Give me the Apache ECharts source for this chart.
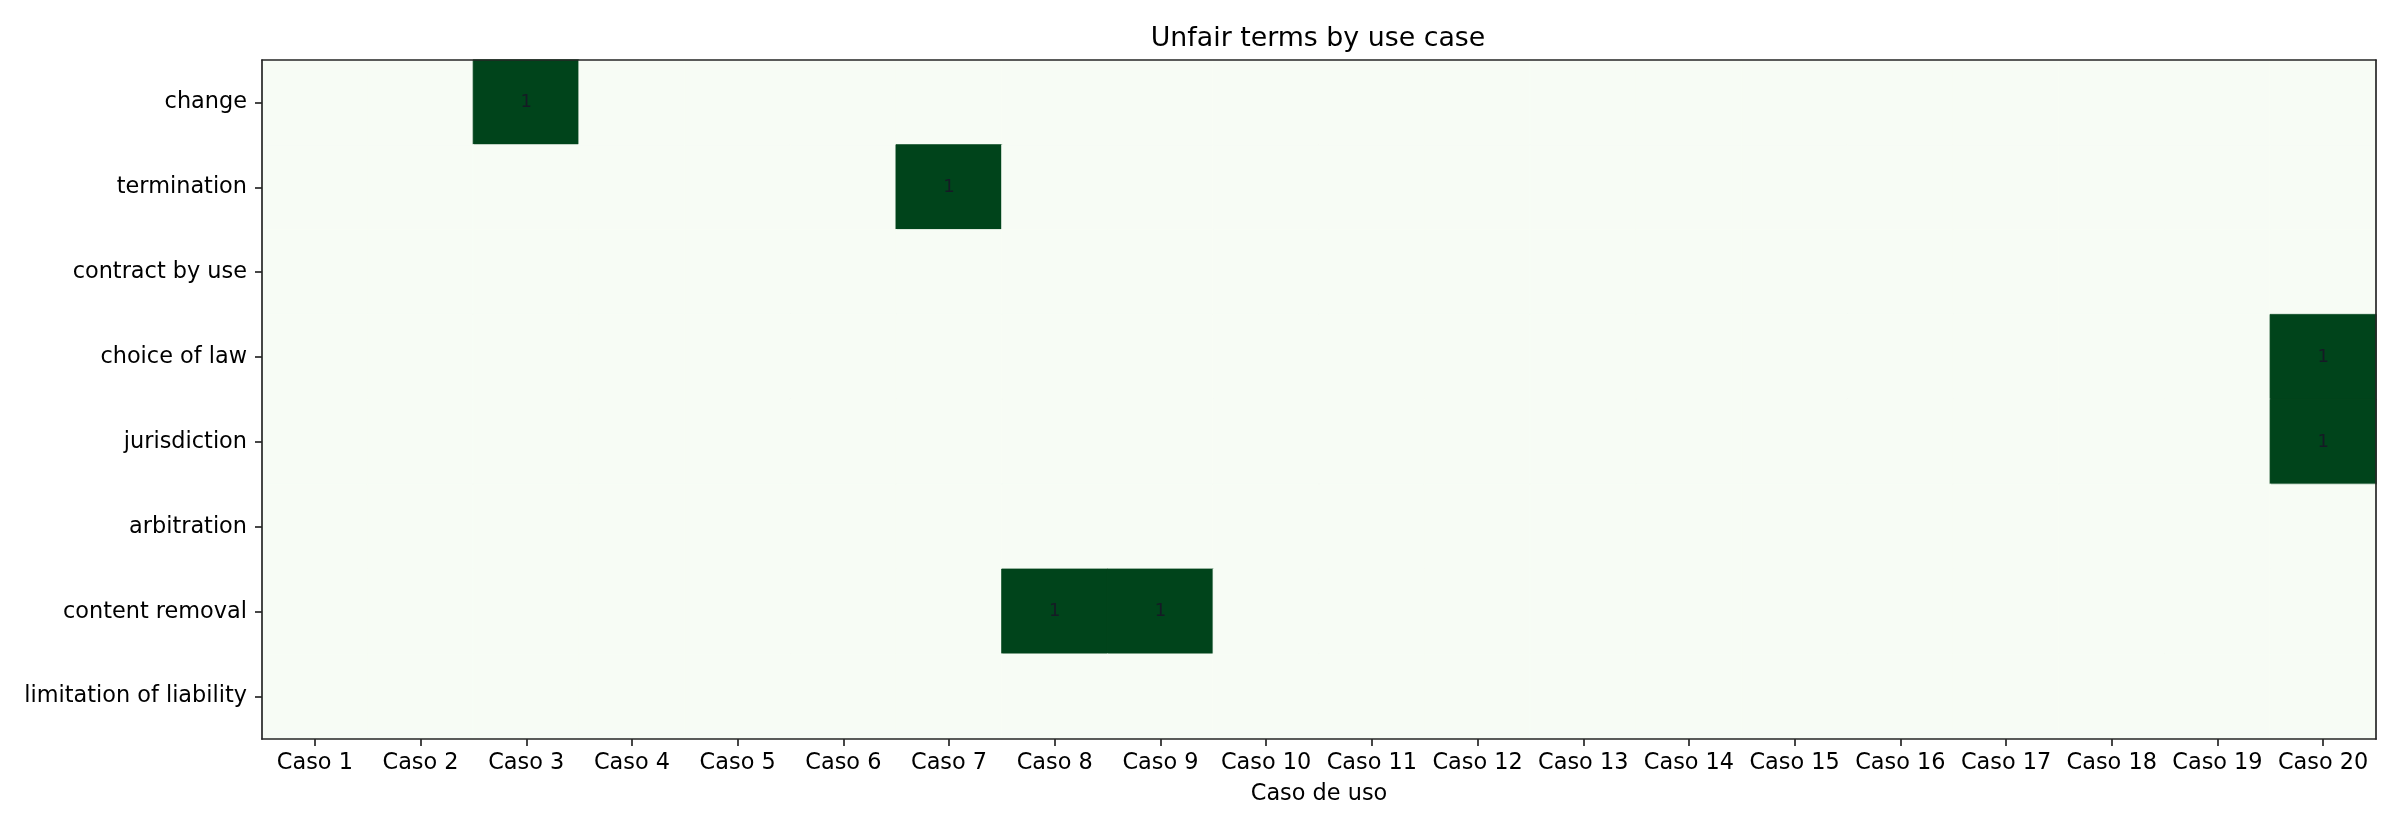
<!DOCTYPE html>
<html>
<head>
<meta charset="utf-8">
<script src="https://cdn.jsdelivr.net/npm/echarts@6/dist/echarts.min.js"></script>
<style>
html,body{margin:0;padding:0;background:#fff;}
#chart{width:2400px;height:832px;}
</style>
</head>
<body>
<div id="chart"></div>
<script>
const useCases = ['Caso 1','Caso 2','Caso 3','Caso 4','Caso 5','Caso 6','Caso 7','Caso 8','Caso 9','Caso 10',
  'Caso 11','Caso 12','Caso 13','Caso 14','Caso 15','Caso 16','Caso 17','Caso 18','Caso 19','Caso 20'];
const terms = ['change','termination','contract by use','choice of law','jurisdiction','arbitration','content removal','limitation of liability'];
// one row per term, one value per use case
const changeRow        = [0,0,1,0,0,0,0,0,0,0,0,0,0,0,0,0,0,0,0,0];
const terminationRow   = [0,0,0,0,0,0,1,0,0,0,0,0,0,0,0,0,0,0,0,0];
const contractByUseRow = [0,0,0,0,0,0,0,0,0,0,0,0,0,0,0,0,0,0,0,0];
const choiceOfLawRow   = [0,0,0,0,0,0,0,0,0,0,0,0,0,0,0,0,0,0,0,1];
const jurisdictionRow  = [0,0,0,0,0,0,0,0,0,0,0,0,0,0,0,0,0,0,0,1];
const arbitrationRow   = [0,0,0,0,0,0,0,0,0,0,0,0,0,0,0,0,0,0,0,0];
const contentRemovalRow= [0,0,0,0,0,0,0,1,1,0,0,0,0,0,0,0,0,0,0,0];
const limitationRow    = [0,0,0,0,0,0,0,0,0,0,0,0,0,0,0,0,0,0,0,0];
const rows = [changeRow, terminationRow, contractByUseRow, choiceOfLawRow, jurisdictionRow, arbitrationRow, contentRemovalRow, limitationRow];

const LOW = '#f7fcf5', HIGH = '#00441b';
const data = [];
rows.forEach((row, yi) => row.forEach((v, xi) => {
  const c = v ? HIGH : LOW;
  data.push({value: [xi, yi, v], itemStyle: {color: c, borderColor: c, borderWidth: 0.8}});
}));

const FONT = 'DejaVu Sans';
const AX = '#262626';
const FS = 22.4;
const chart = echarts.init(document.getElementById('chart'), null, {renderer: 'canvas'});
chart.setOption({
  animation: false,
  backgroundColor: '#ffffff',
  title: {
    text: 'Unfair terms by use case',
    left: 1313, top: 18, textAlign: 'center',
    textStyle: {fontFamily: FONT, fontSize: 26.8, fontWeight: 'normal', color: '#000', lineHeight: 32}
  },
  grid: {left: 262, right: 24, top: 60, bottom: 93},
  xAxis: [{
    type: 'category', data: useCases, position: 'bottom', z: 10,
    name: 'Caso de uso', nameLocation: 'middle', nameGap: 40,
    nameTextStyle: {fontFamily: FONT, fontSize: FS, color: '#000', lineHeight: 26},
    axisLine: {show: true, lineStyle: {color: AX, width: 1.7}},
    axisTick: {show: true, alignWithLabel: true, length: 7, lineStyle: {color: AX, width: 1.7}},
    axisLabel: {fontFamily: FONT, fontSize: FS, color: '#000', margin: 11, lineHeight: 26, interval: 0},
    splitLine: {show: false}
  }, {
    type: 'category', data: useCases, position: 'top', z: 10,
    axisLine: {show: true, lineStyle: {color: AX, width: 1.7}},
    axisTick: {show: false}, axisLabel: {show: false}, splitLine: {show: false}
  }],
  yAxis: [{
    type: 'category', data: terms, inverse: true, position: 'left', z: 10,
    axisLine: {show: true, lineStyle: {color: AX, width: 1.7}},
    axisTick: {show: true, alignWithLabel: true, length: 7, lineStyle: {color: AX, width: 1.7}},
    axisLabel: {fontFamily: FONT, fontSize: FS, color: '#000', margin: 15, interval: 0},
    splitLine: {show: false}
  }, {
    type: 'category', data: terms, inverse: true, position: 'right', z: 10,
    axisLine: {show: true, lineStyle: {color: AX, width: 1.7}},
    axisTick: {show: false}, axisLabel: {show: false}, splitLine: {show: false}
  }],
  series: [{
    type: 'heatmap', xAxisIndex: 0, yAxisIndex: 0, data: data,
    label: {
      show: true, fontFamily: FONT, fontSize: 18, color: '#161a26',
      formatter: p => (p.value[2] ? String(p.value[2]) : '')
    },
    emphasis: {disabled: true}
  }]
});
</script>
</body>
</html>
